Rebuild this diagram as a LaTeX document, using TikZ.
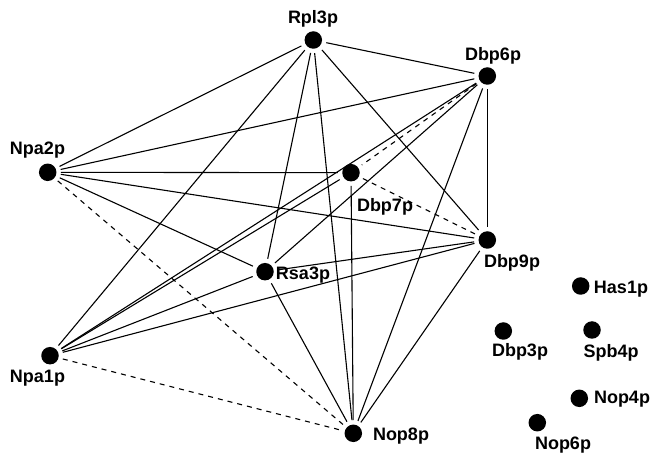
\documentclass[tikz,border=0pt]{standalone}
\usepackage{fontspec}
\setmainfont{Liberation Sans}
\begin{document}
\begin{tikzpicture}[x=1pt,y=-1pt,
  dot/.style={circle, fill=black, minimum size=17.5pt, inner sep=0pt, outer sep=4.5pt},
  lbl/.style={font=\bfseries\fontsize{18}{18}\selectfont, inner sep=0pt},
  link/.style={line width=1.1pt},
  weak/.style={line width=1.1pt, dash pattern=on 5pt off 5pt}]
\useasboundingbox (0,0) rectangle (654,454);

% proteins
\node[dot] (rpl3) at (313.3,40) {};
\node[dot] (dbp6) at (487.3,76) {};
\node[dot] (dbp7) at (351,172.7) {};
\node[dot] (dbp9) at (487.3,240) {};
\node[dot] (npa2) at (47.7,172.3) {};
\node[dot] (npa1) at (50,355.7) {};
\node[dot] (rsa3) at (265,271.7) {};
\node[dot] (nop8) at (353.3,433.3) {};
\node[dot] (has1) at (580.7,286) {};
\node[dot] (dbp3) at (503.3,331) {};
\node[dot] (spb4) at (592,330) {};
\node[dot] (nop4) at (579.3,398.3) {};
\node[dot] (nop6) at (537.3,422.7) {};

% names
\node[lbl] (lrpl3) at (313,19) {Rpl3p};
\node[lbl] (ldbp6) at (493,56) {Dbp6p};
\node[lbl] (ldbp7) at (385,207) {Dbp7p};
\node[lbl] (ldbp9) at (512,263) {Dbp9p};
\node[lbl] (lnpa2) at (37.5,150) {Npa2p};
\node[lbl] (lnpa1) at (37.5,378) {Npa1p};
\node[lbl] (lrsa3) at (303,275) {Rsa3p};
\node[lbl] (lnop8) at (401,436) {Nop8p};
\node[lbl] (lhas1) at (621,289) {Has1p};
\node[lbl] (ldbp3) at (520,352) {Dbp3p};
\node[lbl] (lspb4) at (611,353) {Spb4p};
\node[lbl] (lnop4) at (622,399) {Nop4p};
\node[lbl] (lnop6) at (563,445) {Nop6p};

% solid interactions
\draw[link] (rpl3) -- (npa2);
\draw[link] (rpl3) -- (npa1);
\draw[link] (rpl3) -- (rsa3);
\draw[link] (rpl3) -- (nop8);
\draw[link] (rpl3) -- (dbp6);
\draw[link] (rpl3) -- (dbp9);
\draw[link] (dbp6) -- (npa2);
\draw[link] (dbp6) -- (npa1);
\draw[link] (dbp6) -- (rsa3);
\draw[link] (dbp6) -- (dbp9);
\draw[link] (dbp6) -- (nop8);
\draw[link] (npa2) -- (dbp7);
\draw[link] (npa2) -- (dbp9);
\draw[link] (npa2) -- (rsa3);
\draw[link] (npa1) -- (dbp7);
\draw[link] (npa1) -- (rsa3);
\draw[link] (npa1) -- (dbp9);
\draw[link] (dbp7) -- (nop8);
\draw[link] (rsa3) -- (dbp9);
\draw[link] (rsa3) -- (nop8);
\draw[link] (dbp9) -- (nop8);

% dashed interactions
\draw[weak] (dbp6) -- (dbp7);
\draw[weak] (dbp7) -- (dbp9);
\draw[weak] (npa2) -- (nop8);
\draw[weak] (npa1) -- (nop8);
\end{tikzpicture}
\end{document}
